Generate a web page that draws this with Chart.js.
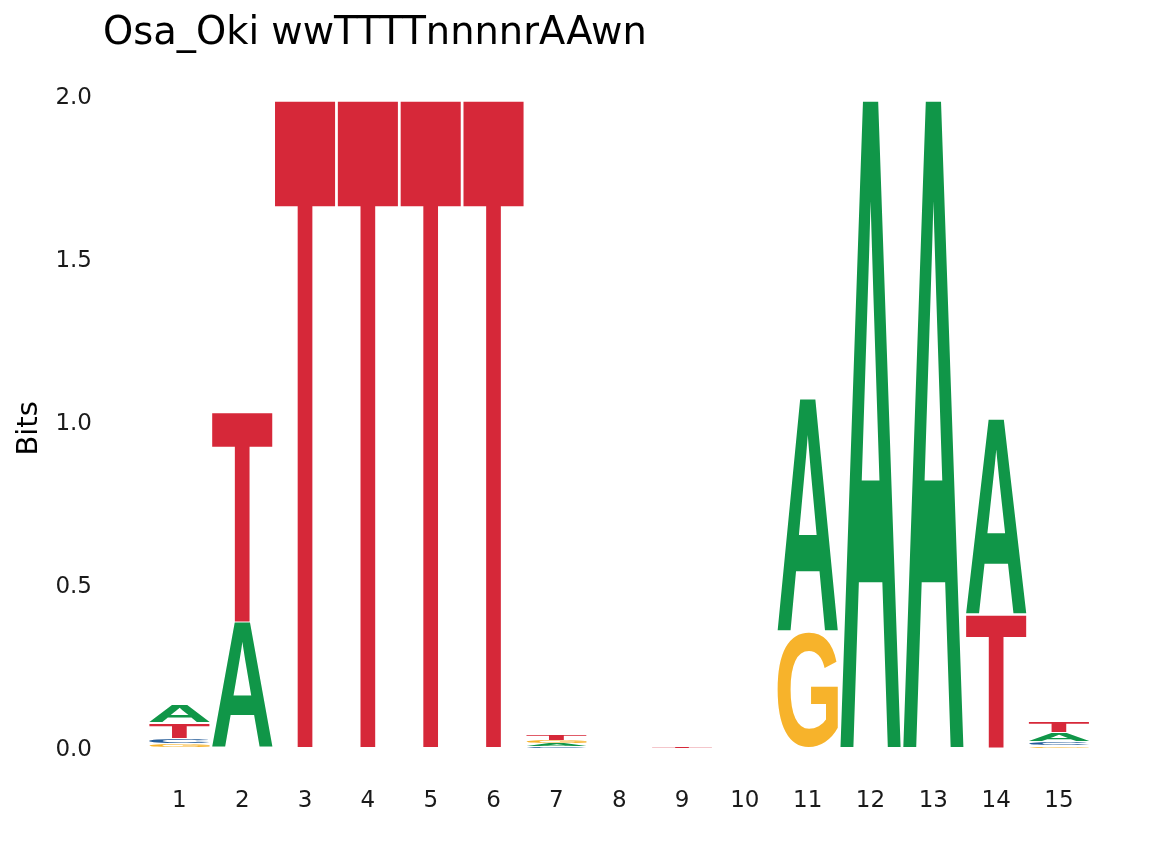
<!DOCTYPE html>
<html lang="en">

<head>
    <meta charset="UTF-8">
    <title>Osa_Oki wwTTTTnnnnrAAwn</title>
    <style>
        html, body {
            margin: 0;
            padding: 0;
            background: #ffffff;
        }

        #logo_wrap {
            width: 1152px;
            height: 865px;
            position: relative;
        }
    </style>
    <script src="https://cdn.jsdelivr.net/npm/chart.js"></script>
</head>

<body>
    <div id="logo_wrap"><canvas id="logo_chart"></canvas></div>

    <script>
        // motif positions and information content (bits) per letter
        const positions = ['1', '2', '3', '4', '5', '6', '7', '8', '9', '10', '11', '12', '13', '14', '15'];
        const bitsA = [0.056, 0.385, 0, 0, 0, 0, 0.008, 0, 0, 0, 0.714, 1.985, 1.985, 0.600, 0.028];
        const bitsC = [0.015, 0, 0, 0, 0, 0, 0.005, 0, 0, 0, 0, 0, 0, 0, 0.012];
        const bitsG = [0.012, 0, 0, 0, 0, 0, 0.009, 0, 0, 0, 0.358, 0, 0, 0, 0.006];
        const bitsT = [0.050, 0.645, 1.985, 1.985, 1.985, 1.985, 0.020, 0, 0.004, 0, 0, 0, 0, 0.410, 0.038];
        const yTicks = [0, 0.5, 1.0, 1.5, 2.0];

        const letterColors = { A: '#109648', C: '#255C99', G: '#F7B32B', T: '#D62839' };
        const byLetter = { A: bitsA, C: bitsC, G: bitsG, T: bitsT };

        // stack per position: smallest letter at the bottom, tallest on top
        const stacks = positions.map((p, i) =>
            Object.keys(byLetter)
                .map(l => ({ letter: l, h: byLetter[l][i] }))
                .filter(d => d.h > 0)
                .sort((a, b) => a.h - b.h)
        );

        const rankSets = [0, 1, 2, 3].map(r => ({
            label: 'rank ' + r,
            data: stacks.map(s => s[r] ? s[r].h : 0),
            letters: stacks.map(s => s[r] ? s[r].letter : null),
            backgroundColor: 'rgba(0,0,0,0)',
            borderWidth: 0,
            barPercentage: 0.955,
            categoryPercentage: 1.0
        }));

        // ink box of each glyph, measured once from a big off screen render
        const GLYPH_SIZE = 600;
        const GLYPH_FONT = 'bold ' + GLYPH_SIZE + 'px "Liberation Sans"';
        const inkCache = {};

        function glyphInk(letter) {
            if (inkCache[letter]) return inkCache[letter];
            const ox = 80, oy = 640;
            const c = document.createElement('canvas');
            c.width = 800;
            c.height = 800;
            const g = c.getContext('2d');
            g.font = GLYPH_FONT;
            g.textBaseline = 'alphabetic';
            g.fillStyle = '#000';
            g.fillText(letter, ox, oy);
            const px = g.getImageData(0, 0, c.width, c.height).data;
            let x0 = c.width, y0 = c.height, x1 = -1, y1 = -1;
            for (let y = 0; y < c.height; y++) {
                for (let x = 0; x < c.width; x++) {
                    if (px[(y * c.width + x) * 4 + 3] > 127) {
                        if (x < x0) x0 = x;
                        if (x > x1) x1 = x;
                        if (y < y0) y0 = y;
                        if (y > y1) y1 = y;
                    }
                }
            }
            // offsets of the ink box from the text origin
            inkCache[letter] = { left: x0 - ox, top: y0 - oy, w: x1 - x0 + 1, h: y1 - y0 + 1 };
            return inkCache[letter];
        }

        // draws each stacked bar as a stretched glyph
        const glyphPlugin = {
            id: 'glyphs',
            afterDatasetsDraw(chart) {
                const ctx = chart.ctx;
                ctx.save();
                ctx.font = GLYPH_FONT;
                ctx.textAlign = 'left';
                ctx.textBaseline = 'alphabetic';
                chart.data.datasets.forEach((ds, di) => {
                    const meta = chart.getDatasetMeta(di);
                    meta.data.forEach((bar, i) => {
                        const letter = ds.letters[i];
                        if (!letter) return;
                        const p = bar.getProps(['x', 'y', 'base', 'width'], true);
                        let top = Math.min(p.y, p.base);
                        let bottom = Math.max(p.y, p.base);
                        const inset = Math.min(1, (bottom - top) * 0.15);
                        top += inset;
                        bottom -= inset;
                        const h = Math.max(bottom - top, 0.8);
                        const ink = glyphInk(letter);
                        ctx.save();
                        ctx.translate(p.x - p.width / 2, top);
                        ctx.scale(p.width / ink.w, h / ink.h);
                        ctx.fillStyle = letterColors[letter];
                        ctx.fillText(letter, -ink.left, -ink.top);
                        ctx.restore();
                    });
                });
                ctx.restore();
            }
        };

        // move the title to the left, like the original
        const titleShift = {
            id: 'titleShift',
            afterLayout(chart) {
                if (chart.titleBlock) chart.titleBlock.left = 103;
            }
        };

        const ctx = document.getElementById('logo_chart').getContext('2d');
        new Chart(ctx, {
            type: 'bar',
            data: {
                labels: positions,
                datasets: rankSets
            },
            plugins: [glyphPlugin, titleShift],
            options: {
                responsive: true,
                maintainAspectRatio: false,
                animation: false,
                layout: {
                    padding: { left: 0, right: 61.6, top: 0, bottom: 0 }
                },
                plugins: {
                    legend: { display: false },
                    tooltip: { enabled: false },
                    title: {
                        display: true,
                        text: 'Osa_Oki wwTTTTnnnnrAAwn',
                        align: 'start',
                        color: '#000000',
                        font: { family: 'DejaVu Sans', size: 38.4, weight: 'normal', lineHeight: 1.2 },
                        padding: { top: 11, bottom: 19 }
                    }
                },
                scales: {
                    x: {
                        stacked: true,
                        grid: { display: false, drawTicks: false },
                        border: { display: false },
                        ticks: {
                            color: '#1a1a1a',
                            font: { family: 'DejaVu Sans', size: 23 },
                            padding: 7,
                            maxRotation: 0
                        },
                        afterFit(scale) {
                            scale.height = 84.35;
                        }
                    },
                    y: {
                        stacked: true,
                        min: -0.1,
                        max: 2.06,
                        grid: { display: false, drawTicks: false },
                        border: { display: false },
                        afterBuildTicks(scale) {
                            scale.ticks = yTicks.map(v => ({ value: v }));
                        },
                        ticks: {
                            color: '#1a1a1a',
                            font: { family: 'DejaVu Sans', size: 23 },
                            padding: 56,
                            labelOffset: 2,
                            callback: v => Number(v).toFixed(1)
                        },
                        title: {
                            display: true,
                            text: 'Bits',
                            color: '#000000',
                            font: { family: 'DejaVu Sans', size: 29 },
                            padding: { top: 12, bottom: 0 }
                        },
                        afterFit(scale) {
                            scale.width = 148;
                        }
                    }
                }
            }
        });
    </script>
</body>

</html>
